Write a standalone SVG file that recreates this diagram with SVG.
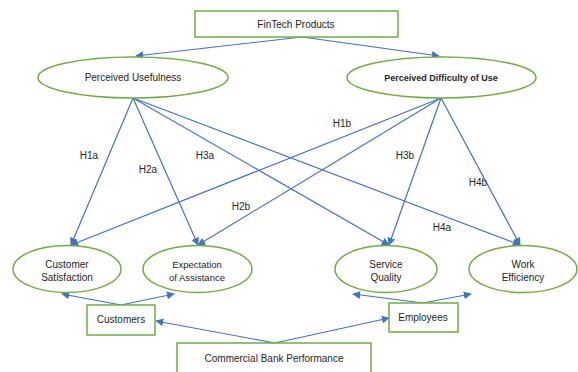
<svg xmlns="http://www.w3.org/2000/svg" width="578" height="372" viewBox="0 0 578 372">
<style>
.box{fill:#fff;stroke:#70AD47;stroke-width:1.5}
.ell{fill:#fff;stroke:#70AD47;stroke-width:1.5}
.t{font-family:"Liberation Sans",Arial,sans-serif;font-size:10px;fill:#262626;text-anchor:middle}
.b{font-weight:bold;font-size:9px}
.s{font-size:9.5px}
.c{stroke:#4472C4;stroke-width:1.2;fill:none;marker-end:url(#a)}
</style>
<defs>
<marker id="a" viewBox="0 0 10 10" refX="9" refY="5" markerWidth="8" markerHeight="8" markerUnits="userSpaceOnUse" orient="auto">
<path d="M0,0 L10,5 L0,10 z" fill="#4472C4"/>
</marker>
</defs>
<rect width="578" height="372" fill="#fff"/>
<g id="connectors">
<line class="c" x1="302" y1="37" x2="136" y2="56"/>
<line class="c" x1="302" y1="37" x2="439" y2="56"/>
<line class="c" x1="133" y1="98" x2="71" y2="245"/>
<line class="c" x1="133" y1="98" x2="198" y2="245"/>
<line class="c" x1="133" y1="98" x2="389" y2="245"/>
<line class="c" x1="133" y1="98" x2="520" y2="245"/>
<line class="c" x1="441" y1="98" x2="71" y2="245"/>
<line class="c" x1="441" y1="98" x2="198" y2="245"/>
<line class="c" x1="441" y1="98" x2="389" y2="245"/>
<line class="c" x1="441" y1="98" x2="520" y2="245"/>
<line class="c" x1="121" y1="305" x2="62" y2="294"/>
<line class="c" x1="121" y1="305" x2="174" y2="294"/>
<line class="c" x1="423" y1="303" x2="353" y2="294"/>
<line class="c" x1="423" y1="303" x2="471" y2="294"/>
<line class="c" x1="275" y1="343" x2="156" y2="321"/>
<line class="c" x1="275" y1="343" x2="389" y2="318"/>
</g>
<g id="labels">
<text class="t" x="89" y="159">H1a</text>
<text class="t" x="148" y="173">H2a</text>
<text class="t" x="205" y="159">H3a</text>
<text class="t" x="342" y="127">H1b</text>
<text class="t" x="241" y="210">H2b</text>
<text class="t" x="405" y="159">H3b</text>
<text class="t" x="442" y="231">H4a</text>
<text class="t" x="478" y="186">H4b</text>
</g>
<g id="fintech"><rect class="box" x="195" y="11" width="203" height="26"/><text class="t" x="296" y="28">FinTech Products</text></g>
<g id="pu"><ellipse class="ell" cx="133" cy="77.5" rx="95" ry="20.5"/><text class="t" x="133" y="81">Perceived Usefulness</text></g>
<g id="pdu"><ellipse class="ell" cx="441.5" cy="77.5" rx="94.5" ry="20.5"/><text class="t b" x="441" y="81">Perceived Difficulty of Use</text></g>
<g id="cs"><ellipse class="ell" cx="67" cy="269" rx="54" ry="23.5"/><text class="t" x="67" y="268">Customer</text><text class="t" x="67" y="281">Satisfaction</text></g>
<g id="ea"><ellipse class="ell" cx="197.5" cy="269" rx="54.5" ry="23.5"/><text class="t s" x="197" y="268">Expectation</text><text class="t s" x="197" y="281">of Assistance</text></g>
<g id="sq"><ellipse class="ell" cx="386" cy="269" rx="51" ry="23.5"/><text class="t" x="386" y="268">Service</text><text class="t" x="386" y="281">Quality</text></g>
<g id="we"><ellipse class="ell" cx="523" cy="269" rx="54" ry="23.5"/><text class="t" x="523" y="268">Work</text><text class="t" x="523" y="281">Efficiency</text></g>
<g id="customers"><rect class="box" x="87" y="305" width="68" height="30"/><text class="t" x="121" y="323">Customers</text></g>
<g id="employees"><rect class="box" x="389" y="303" width="69" height="29"/><text class="t" x="423" y="321">Employees</text></g>
<g id="cbp"><rect class="box" x="177" y="343" width="194" height="31"/><text class="t" x="274" y="362">Commercial Bank Performance</text></g>
</svg>
